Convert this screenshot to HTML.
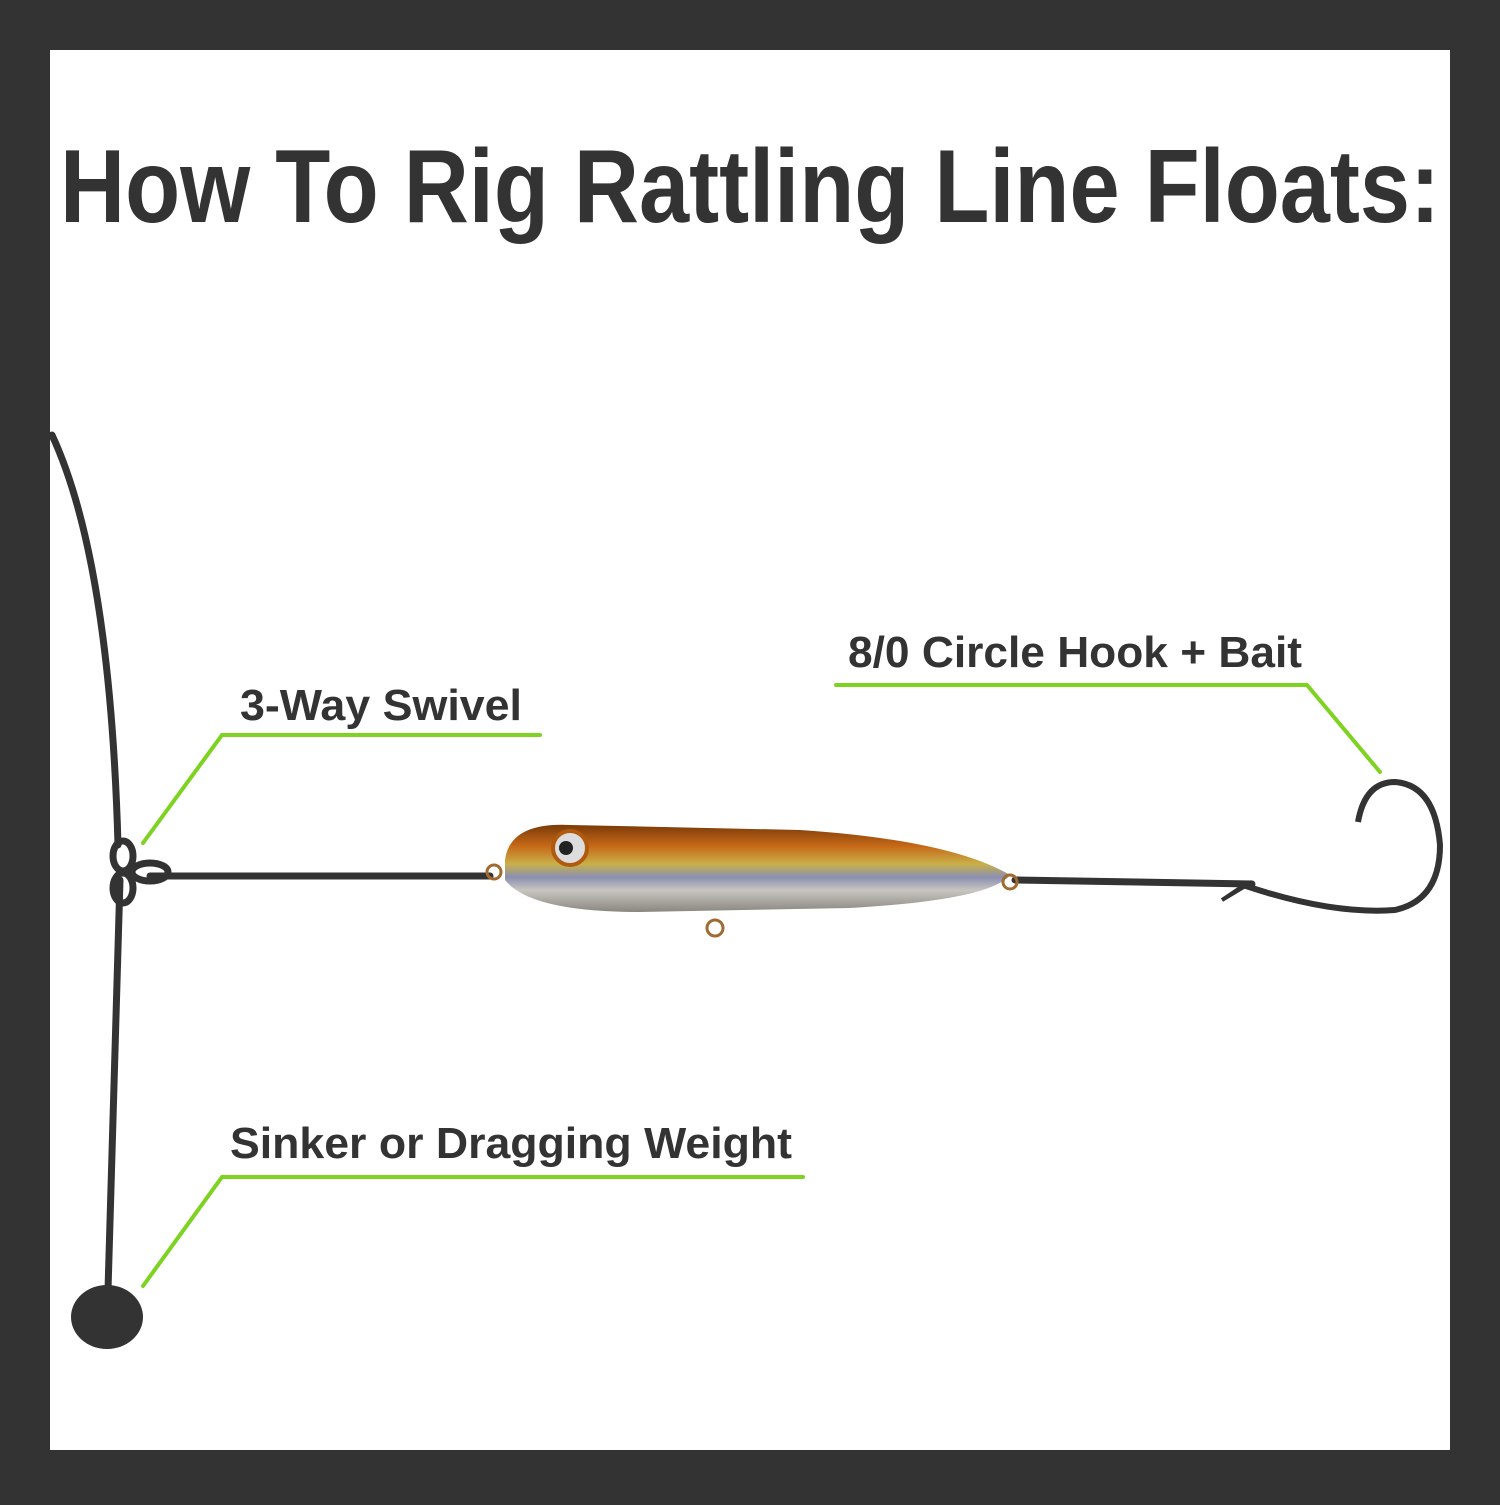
<!DOCTYPE html>
<html><head><style>html,body{margin:0;padding:0;background:#333}</style></head>
<body>
<svg width="1500" height="1500" viewBox="0 0 1500 1500" xmlns="http://www.w3.org/2000/svg">
<defs>
<linearGradient id="fl" x1="0" y1="0" x2="0" y2="1">
<stop offset="0" stop-color="#7a3a08"/>
<stop offset="0.25" stop-color="#c86a18"/>
<stop offset="0.45" stop-color="#c9b04a"/>
<stop offset="0.6" stop-color="#8a8fb0"/>
<stop offset="0.75" stop-color="#c8c6c0"/>
<stop offset="1" stop-color="#8a8680"/>
</linearGradient>
</defs>
<rect x="0" y="0" width="1500" height="1500" fill="#333"/>
<rect x="50" y="50" width="1400" height="1400" fill="#fff"/>
<text x="750" y="222" text-anchor="middle" font-family="Liberation Sans, sans-serif" font-weight="bold" font-size="104" fill="#333" textLength="1380" lengthAdjust="spacingAndGlyphs">How To Rig Rattling Line Floats:</text>
<g fill="none" stroke="#333" stroke-width="7" stroke-linecap="round">
<path d="M52,435 Q110,560 118,845"/>
<path d="M120,880 L108,1290"/>
<path d="M150,876 L490,876"/>
<path d="M1015,880 L1252,884"/>
</g>
<g fill="none" stroke="#333" stroke-width="7">
<ellipse cx="123" cy="856" rx="10" ry="15"/>
<ellipse cx="123" cy="888" rx="10" ry="15"/>
<ellipse cx="150" cy="872" rx="18" ry="9"/>
</g>
<ellipse cx="107" cy="1317" rx="36" ry="32" fill="#333"/>
<!-- hook -->
<path d="M1240,884 Q1330,915 1395,910 Q1440,900 1440,845 Q1435,785 1395,782 Q1365,782 1358,822" fill="none" stroke="#333" stroke-width="6"/>
<path d="M1222,900 L1252,882 L1240,888 Z" fill="#333" stroke="#333" stroke-width="4"/>
<!-- float -->
<path d="M505,860 Q510,822 570,825 L800,830 Q950,840 1010,875 Q990,900 850,908 L640,912 Q530,912 505,880 Z" fill="url(#fl)"/>
<circle cx="570" cy="848" r="17" fill="#ddd" stroke="#b05a10" stroke-width="4"/>
<circle cx="566" cy="848" r="7" fill="#222"/>
<g fill="none" stroke="#a06a30" stroke-width="3">
<circle cx="494" cy="872" r="7"/>
<circle cx="1010" cy="882" r="7"/>
<circle cx="715" cy="928" r="8"/>
</g>
<!-- labels -->
<g fill="none" stroke="#7ed321" stroke-width="4" stroke-linecap="round">
<path d="M143,843 L222,735 L540,735"/>
<path d="M836,685 L1307,685 L1380,772"/>
<path d="M143,1286 L222,1177 L803,1177"/>
</g>
<g font-family="Liberation Sans, sans-serif" font-weight="bold" font-size="44" fill="#333">
<text x="240" y="720" textLength="282" lengthAdjust="spacingAndGlyphs">3-Way Swivel</text>
<text x="848" y="667" textLength="454" lengthAdjust="spacingAndGlyphs">8/0 Circle Hook + Bait</text>
<text x="230" y="1158" textLength="562" lengthAdjust="spacingAndGlyphs">Sinker or Dragging Weight</text>
</g>
</svg>
</body></html>
